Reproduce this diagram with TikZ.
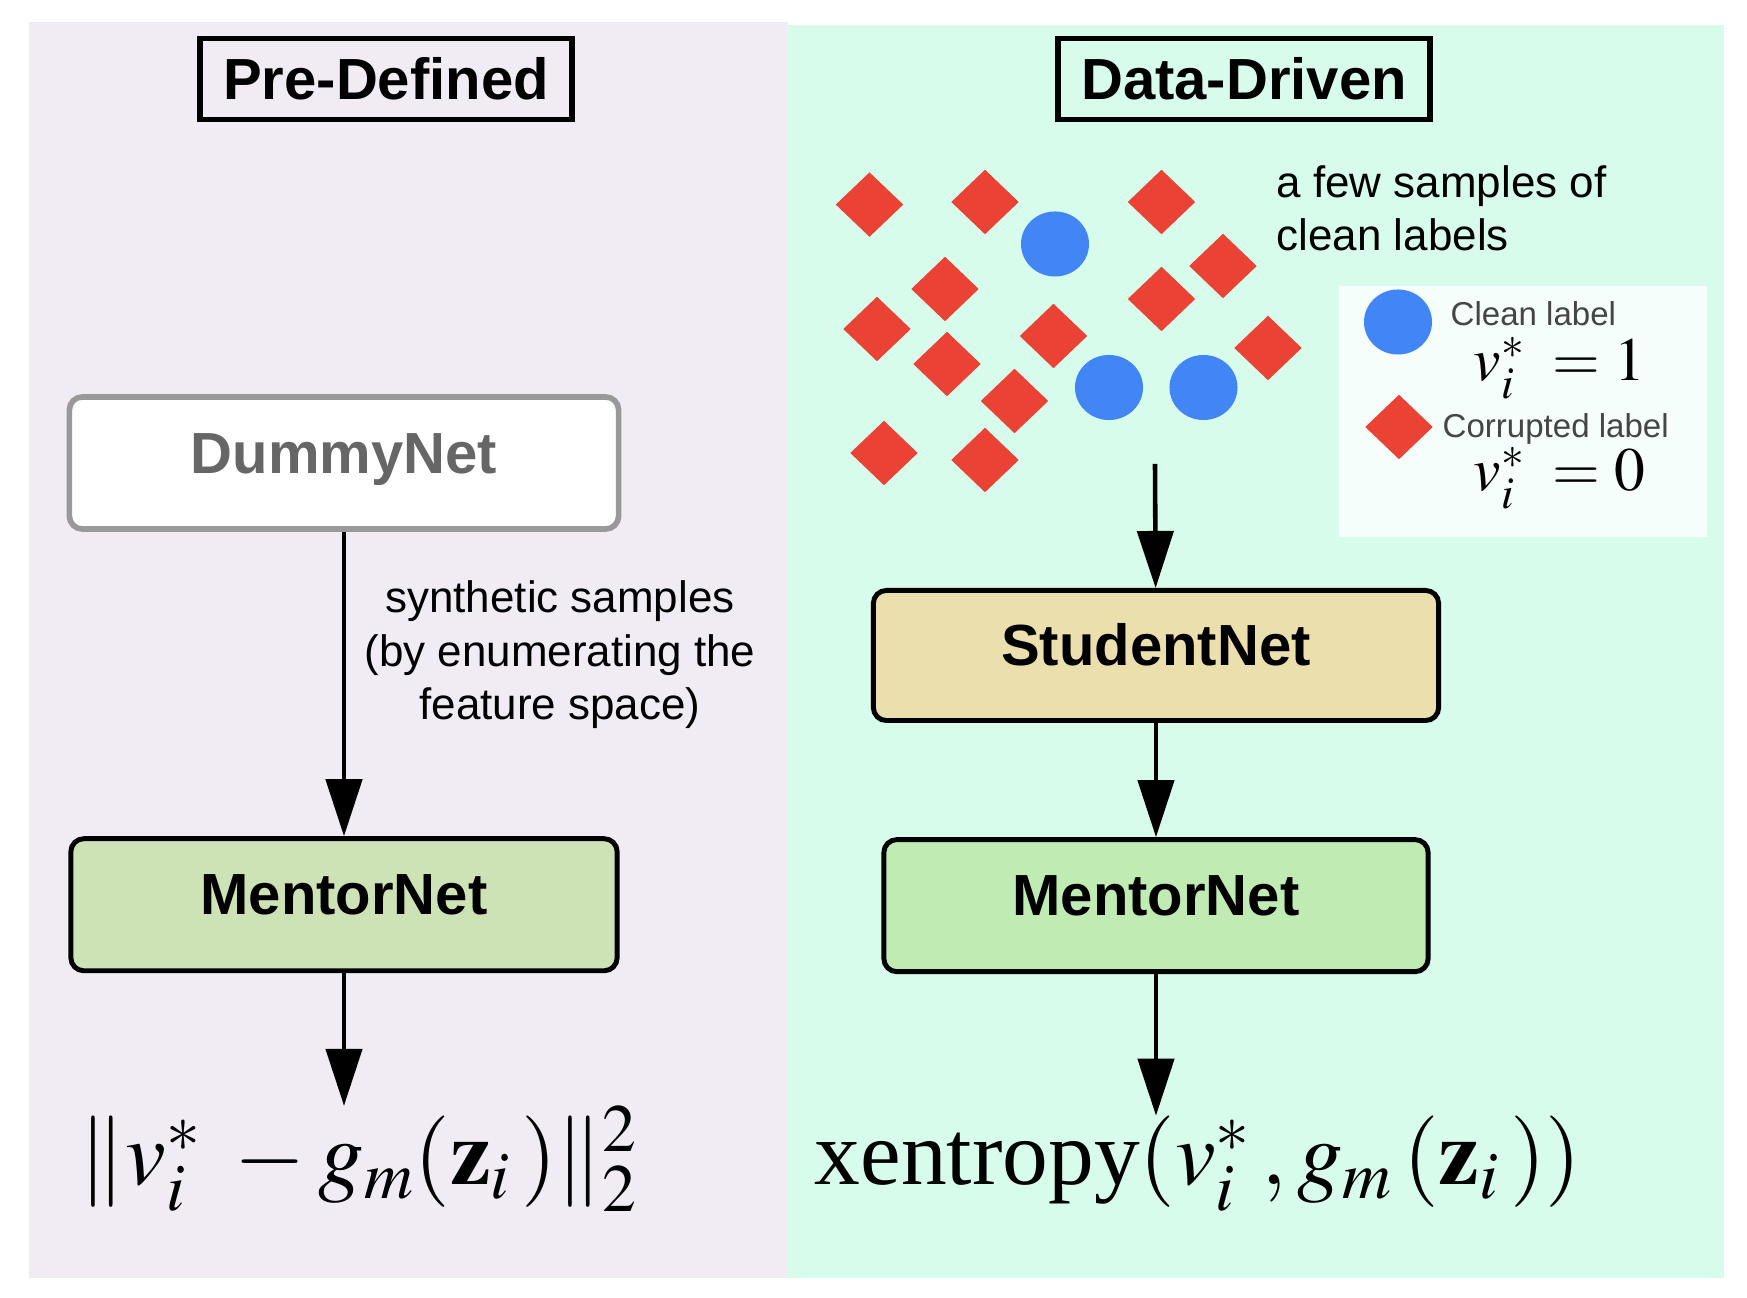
\documentclass[tikz,border=0pt]{standalone}
\usepackage{mathptmx}
\usepackage[no-math]{fontspec}
\setmainfont{Liberation Sans}
\newfontfamily\serifrm{Liberation Serif}
\usepackage{xcolor}
\usetikzlibrary{positioning}
\usetikzlibrary{arrows.meta,shapes.geometric}
\definecolor{predef}{HTML}{F1ECF3}
\definecolor{datadr}{HTML}{D7FCEB}
\definecolor{legbg}{HTML}{F5FEFA}
\definecolor{badred}{HTML}{EA4335}
\definecolor{goodblue}{HTML}{4285F4}
\definecolor{mentorA}{HTML}{CDE3B6}
\definecolor{mentorB}{HTML}{C0ECB4}
\definecolor{student}{HTML}{ECDFAE}
\tikzset{
  title/.style={draw,line width=1.5pt,minimum width=3.72cm,minimum height=0.81cm,inner sep=0pt,font=\fontsize{16.5}{19.8}\selectfont\bfseries},
  net/.style={draw,rounded corners=1.3mm,line width=1.4pt,minimum height=1.32cm,inner sep=0pt,text height=0.716em,text depth=0.135em,font=\fontsize{16.5}{19.8}\selectfont\bfseries},
  arr/.style={-{Triangle[length=5.7mm,width=3.6mm]},line width=1.3pt},
  bad/.style={diamond,fill=badred,minimum width=6.8mm,minimum height=6.5mm,inner sep=0pt},
  good/.style={ellipse,fill=goodblue,minimum width=6.8mm,minimum height=6.5mm,inner sep=0pt},
  note/.style={inner sep=0pt,font=\fontsize{12.5}{15.2}\selectfont},
  legtxt/.style={inner sep=0pt,anchor=base west,text=black!73,font=\fontsize{9.4}{11}\selectfont},
  legmath/.style={inner sep=0pt,anchor=base west,font=\fontsize{17.5}{21}\selectfont},
  loss/.style={inner sep=0pt,anchor=base west,font=\fontsize{26}{31}\selectfont}
}
\begin{document}
\begin{tikzpicture}[x=0.01cm,y=-0.01cm,on grid]
\useasboundingbox (0,0) rectangle (1747,1298);
\fill[predef] (29,22) rectangle (788,1278);
\fill[datadr] (788,25) rectangle (1724,1278);
\node[title] (pre) at (386,79) {Pre-Defined};
\node[title] (data) at (1244,79) {Data-Driven};
% pre-defined
\node[net,draw=black!40,line width=1.6pt,fill=white,text=black!60,minimum width=5.49cm] (dummy) at (344,463) {DummyNet};
\node[net,fill=mentorA,minimum width=5.46cm] (mentorL) [below=4.415cm of dummy] {MentorNet};
\node[note,align=center] (synth) at (560,655) {synthetic samples\\(by enumerating the\\feature space)};
\node[loss] (lossL) at (79,1185) {$\|v_i^*\; - g_m(\mathbf{z}_i\,)\|_2^2$};
\draw[arr] (dummy) -- (mentorL);
\draw[arr] (mentorL) -- (mentorL |- lossL.north);
% data-driven
\foreach \x/\y [count=\k] in {869.5/204.6,985/202,1161.5/202,945/289,1223/266,877/329,1161.5/299,1053.5/336,947/364,1268/348,1014.5/401,884/453,985/460}
  \node[bad] (d\k) at (\x,\y) {};
\node[good] (c1) at (1055,244) {};
\node[good] (c2) at (1109,387.5) {};
\node[good] (c3) at (1203.5,387.5) {};
\node[note,anchor=base west,align=left] (few) at (1276,251) {a few samples of\\clean labels};
\fill[legbg] (1339,286) rectangle (1707,537);
\node[good] (lgood) at (1398,322) {};
\node[legtxt] (lclean) at (1450,326) {Clean label};
\node[legmath] (lv1) at (1473,381) {$v_i^*\;= 1$};
\node[bad] (lbad) at (1399,427) {};
\node[legtxt] (lcorr) at (1442,438) {Corrupted label};
\node[legmath] (lv0) at (1473,491) {$v_i^*\;= 0$};
\node[net,fill=student,minimum width=5.65cm,minimum height=1.30cm] (stud) at (1156,655.5) {StudentNet};
\node[net,fill=mentorB,minimum width=5.44cm] (mentorR) [below=2.5cm of stud] {MentorNet};
\node[loss] (lossR) at (814,1185) {{\serifrm xentropy}$(v_i^*\,, g_m\,(\mathbf{z}_i\,))$};
\coordinate (pts) at (1155,464);
\draw[arr] (pts) -- (stud);
\draw[arr] (stud) -- (mentorR);
\draw[arr] (mentorR) -- (mentorR |- lossR.north);
\end{tikzpicture}
\end{document}
